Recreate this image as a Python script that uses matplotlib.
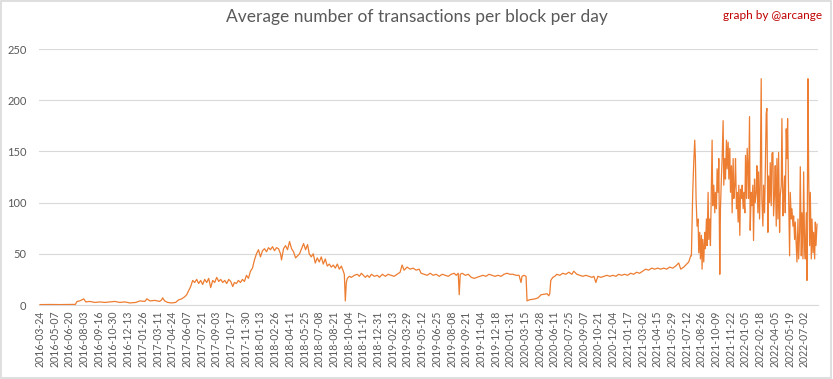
import matplotlib
matplotlib.use("Agg")
import matplotlib.pyplot as plt
from matplotlib.patches import Rectangle

# day index (days since 2016-03-24) and average transactions per block
DAY = [
    0, 30, 60, 90, 106, 111, 119, 131, 137, 149, 164, 179, 194, 209, 224, 239,
    254, 269, 287, 299, 314, 320, 329, 344, 358, 364, 367, 373, 382, 394, 406,
    415, 424, 433, 439, 445, 451, 457, 463, 469, 475, 481, 487, 493, 499, 505,
    511, 517, 523, 529, 535, 541, 547, 553, 559, 565, 571, 577, 582, 588, 594,
    600, 606, 612, 618, 624, 630, 636, 642, 648, 654, 660, 666, 672, 678, 684,
    690, 696, 702, 708, 714, 720, 723, 729, 735, 741, 747, 753, 759, 765, 771,
    777, 783, 789, 795, 801, 806, 812, 818, 824, 830, 836, 842, 848, 854, 860,
    866, 872, 878, 884, 890, 896, 902, 908, 911, 914, 917, 920, 926, 932, 941,
    950, 956, 962, 968, 974, 980, 986, 992, 1001, 1010, 1016, 1025, 1034, 1042,
    1051, 1060, 1069, 1078, 1084, 1090, 1099, 1108, 1117, 1126, 1135, 1141,
    1150, 1159, 1168, 1177, 1186, 1195, 1204, 1213, 1222, 1231, 1240, 1246,
    1252, 1255, 1258, 1264, 1273, 1282, 1291, 1300, 1308, 1317, 1326, 1335,
    1344, 1353, 1362, 1371, 1380, 1389, 1398, 1407, 1416, 1425, 1434, 1440,
    1443, 1449, 1455, 1458, 1464, 1473, 1482, 1491, 1500, 1509, 1518, 1523,
    1526, 1529, 1535, 1541, 1547, 1556, 1565, 1574, 1583, 1592, 1598, 1607,
    1616, 1625, 1634, 1643, 1652, 1658, 1664, 1670, 1679, 1688, 1697, 1706,
    1715, 1724, 1732, 1741, 1750, 1759, 1768, 1777, 1786, 1795, 1804, 1813,
    1822, 1831, 1840, 1849, 1858, 1867, 1876, 1885, 1894, 1903, 1912, 1918,
    1927, 1936, 1942, 1948, 1950, 1952, 1954, 1957, 1960, 1962, 1964, 1967,
    1970, 1972, 1975, 1977, 1980, 1982, 1984, 1987, 1990, 1992, 1995, 1997,
    2000, 2002, 2005, 2007, 2010, 2012, 2014, 2017, 2020, 2022, 2025, 2027,
    2030, 2032, 2035, 2037, 2040, 2042, 2045, 2047, 2050, 2052, 2055, 2057,
    2060, 2062, 2065, 2067, 2070, 2072, 2075, 2077, 2080, 2082, 2085, 2087,
    2090, 2092, 2095, 2097, 2100, 2102, 2105, 2107, 2110, 2112, 2115, 2117,
    2120, 2121, 2124, 2126, 2129, 2131, 2134, 2136, 2139, 2141, 2144, 2146,
    2149, 2151, 2154, 2156, 2159, 2161, 2164, 2166, 2169, 2171, 2174, 2176,
    2179, 2181, 2184, 2186, 2189, 2191, 2194, 2196, 2199, 2201, 2204, 2206,
    2209, 2211, 2214, 2216, 2219, 2221, 2224, 2226, 2229, 2231, 2234, 2236,
    2238, 2241, 2244, 2246, 2249, 2251, 2254, 2256, 2259, 2261, 2264, 2266,
    2269, 2271, 2274, 2276, 2279, 2281, 2284, 2286, 2289, 2291, 2294, 2296,
    2299, 2301, 2304, 2306, 2309, 2311, 2314, 2316, 2319, 2321, 2323, 2326,
]
TX = [
    0.4, 0.5, 0.4, 0.5, 0.6, 3.5, 4, 6, 3, 3.5, 2.5, 3, 2.5, 3, 3.5, 2.5,
    3, 2, 2.5, 4, 3.5, 6, 4, 4.5, 3.5, 5, 7, 4, 2.5, 2, 2.5,
    5, 6, 8, 10, 14, 18, 24, 22, 25, 21, 24, 20, 25, 22, 26,
    17, 24, 22, 27, 23, 25, 22, 24, 21, 25, 23, 18, 22, 21, 24,
    22, 25, 23, 29, 26, 33, 36, 44, 50, 54, 47, 53, 55, 52, 56,
    54, 57, 53, 56, 55, 50, 44, 55, 58, 54, 62, 55, 52, 46, 48,
    50, 55, 60, 54, 59, 50, 47, 50, 41, 46, 42, 47, 40, 45, 38,
    40, 37, 39, 36, 40, 35, 38, 33, 30, 4, 22, 26, 28, 27, 29,
    30, 28, 31, 29, 27, 29, 27, 30, 28, 29, 27, 30, 28, 30,
    29, 28, 30, 32, 39, 34, 37, 35, 36, 34, 35, 31,
    30, 29, 31, 29, 30, 28, 30, 29, 28, 30, 31, 29,
    31, 10, 30, 31, 29, 30, 27, 26, 27, 28, 29, 28,
    30, 29, 28, 29, 28, 30, 31, 30, 30, 29, 29, 22,
    28, 29, 28, 4, 5, 5.5, 6, 7, 10, 10.5, 11, 9,
    11, 24, 27, 28, 30, 29, 31, 30, 32, 30, 33, 30,
    29, 28, 29, 28, 27, 28, 22, 28, 27, 28, 29, 28,
    29, 28, 30, 29, 30, 29, 31, 30, 32, 31, 33, 35,
    34, 36, 35, 36, 35, 36, 35, 37, 36, 38, 41, 35,
    37, 40, 42, 48, 48, 81, 110, 139, 161, 143, 104, 77,
    84, 51, 71, 45, 68, 35, 64, 42, 71, 55, 84, 58,
    110, 64, 84, 58, 117, 161, 97, 117, 90, 110, 94, 133,
    110, 143, 30, 94, 126, 143, 180, 117, 143, 123, 161, 133,
    159, 123, 153, 110, 136, 90, 143, 104, 117, 143, 94, 110,
    81, 117, 68, 113, 104, 117, 94, 110, 90, 146, 104, 153,
    126, 104, 184, 73, 110, 97, 117, 63, 123, 100, 110, 136,
    90, 130, 84, 117, 221, 104, 77, 117, 90, 126, 187, 192,
    71, 126, 100, 139, 97, 148, 149, 87, 110, 136, 77, 143,
    84, 149, 71, 107, 117, 182, 87, 104, 126, 90, 172, 143,
    182, 107, 48, 110, 84, 94, 77, 87, 64, 81, 58, 42,
    84, 45, 71, 135, 48, 90, 45, 130, 55, 45, 90, 24,
    221, 131, 58, 110, 45, 84, 51, 71, 45, 81, 58, 79,
]

TICK_LABELS = [
    "2016-03-24", "2016-05-07", "2016-06-20", "2016-08-03", "2016-09-16",
    "2016-10-30", "2016-12-13", "2017-01-26", "2017-03-11", "2017-04-24",
    "2017-06-07", "2017-07-21", "2017-09-03", "2017-10-17", "2017-11-30",
    "2018-01-13", "2018-02-26", "2018-04-11", "2018-05-25", "2018-07-08",
    "2018-08-21", "2018-10-04", "2018-11-17", "2018-12-31", "2019-02-13",
    "2019-03-29", "2019-05-12", "2019-06-25", "2019-08-08", "2019-09-21",
    "2019-11-04", "2019-12-18", "2020-01-31", "2020-03-15", "2020-04-28",
    "2020-06-11", "2020-07-25", "2020-09-07", "2020-10-21", "2020-12-04",
    "2021-01-17", "2021-03-02", "2021-04-15", "2021-05-29", "2021-07-12",
    "2021-08-26", "2021-10-09", "2021-11-22", "2022-01-05", "2022-02-18",
    "2022-04-05", "2022-05-19", "2022-07-02",
]
TICK_STEP = 44  # one label every 44 days
Y_TICKS = [0, 50, 100, 150, 200, 250]

plt.rcParams["font.family"] = ["Lato", "DejaVu Sans"]

GREY = "#595959"
GRID = "#d9d9d9"

fig = plt.figure(figsize=(8.33, 3.79), dpi=100)
ax = fig.add_axes([39 / 833, 74 / 379, 779 / 833, 256 / 379])

ax.plot(DAY, TX, color="#ed7d31", linewidth=0.9, zorder=3)

ax.set_xlim(-3, DAY[-1] + 3)
ax.set_ylim(0, 250)
ax.set_yticks(Y_TICKS)
ax.set_xticks([i * TICK_STEP for i in range(len(TICK_LABELS))])
ax.set_xticklabels(TICK_LABELS, rotation=90, fontsize=7.6, color=GREY)
ax.tick_params(axis="y", labelsize=8, labelcolor=GREY, length=0, pad=9)
ax.tick_params(axis="x", length=0, pad=4)
ax.grid(axis="y", color=GRID, linewidth=0.8, zorder=0)
for side in ("top", "right", "left"):
    ax.spines[side].set_visible(False)
ax.spines["bottom"].set_color(GRID)
ax.spines["bottom"].set_linewidth(0.8)

fig.text(0.5, 0.955, "Average number of transactions per block per day",
         ha="center", va="center", fontsize=12.5, color=GREY)
fig.text(0.987, 0.96, "graph by @arcange", ha="right", va="center",
         fontsize=8.5, color="#c00000")

fig.patches.append(Rectangle((0.001, 0.002), 0.997, 0.995, transform=fig.transFigure,
                             fill=False, edgecolor=GRID, linewidth=1.2))

fig.savefig("out.png", dpi=100, facecolor="white")
